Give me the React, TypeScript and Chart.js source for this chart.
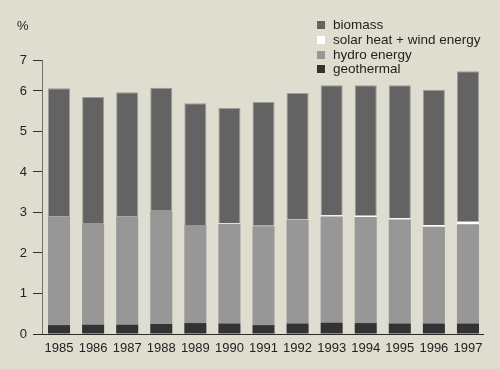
import React, { useEffect, useRef } from "react";
import { Chart, registerables } from "chart.js";

Chart.register(...registerables);

const years = ["1985", "1986", "1987", "1988", "1989", "1990", "1991", "1992", "1993", "1994", "1995", "1996", "1997"];
const geothermal = [0.22, 0.23, 0.23, 0.25, 0.27, 0.26, 0.22, 0.26, 0.28, 0.27, 0.26, 0.26, 0.26];
const hydro = [2.69, 2.49, 2.68, 2.79, 2.42, 2.46, 2.44, 2.57, 2.62, 2.62, 2.57, 2.39, 2.45];
const solarWind = [0, 0, 0, 0, 0, 0.02, 0.01, 0.01, 0.03, 0.03, 0.03, 0.04, 0.06];
const biomass = [3.16, 3.13, 3.06, 3.04, 3.01, 2.84, 3.06, 3.11, 3.21, 3.22, 3.28, 3.34, 3.72];

const yTickValues = [0, 1, 2, 3, 4, 5, 6, 6.765];
const yTickLabels = ["0", "1", "2", "3", "4", "5", "6", "7"];
const yMax = 6.765;

const BG = "#dfddcf";
const FONT = "'Liberation Sans', Arial, sans-serif";

const legendItems = [
  { label: "biomass", color: "#636363" },
  { label: "solar heat + wind energy", color: "#ffffff" },
  { label: "hydro energy", color: "#979797" },
  { label: "geothermal", color: "#333333" },
];

const xAxisLine = {
  id: "xAxisLine",
  afterDatasetsDraw(chart: any) {
    const { ctx, chartArea } = chart;
    const y = Math.round(chart.scales.y.getPixelForValue(0)) + 0.5;
    ctx.save();
    ctx.strokeStyle = "#2a2a2a";
    ctx.lineWidth = 1;
    ctx.beginPath();
    ctx.moveTo(chartArea.left - 9, y);
    ctx.lineTo(chartArea.right - 1, y);
    ctx.stroke();
    ctx.restore();
  },
};

export default function App() {
  const canvasRef = useRef<HTMLCanvasElement | null>(null);

  useEffect(() => {
    if (!canvasRef.current) return;
    const chart = new Chart(canvasRef.current, {
      type: "bar",
      data: {
        labels: years,
        datasets: [
          { label: "geothermal", data: geothermal, backgroundColor: "#333333", borderWidth: 0 },
          { label: "hydro energy", data: hydro, backgroundColor: "#979797", borderWidth: 0 },
          { label: "solar heat + wind energy", data: solarWind, backgroundColor: "#ffffff", borderWidth: 0 },
          {
            label: "biomass",
            data: biomass,
            backgroundColor: "#636363",
            borderColor: "#9d9d97",
            borderWidth: 1,
          },
        ],
      },
      options: {
        responsive: false,
        maintainAspectRatio: false,
        animation: false,
        layout: { padding: { top: 60, right: 15, left: 0, bottom: 0 } },
        datasets: { bar: { barPercentage: 0.647, categoryPercentage: 1 } },
        plugins: { legend: { display: false }, tooltip: { enabled: false } },
        scales: {
          x: {
            stacked: true,
            grid: { display: false, drawTicks: false },
            border: { display: false },
            ticks: { color: "#222", font: { family: FONT, size: 13 }, padding: 7, maxRotation: 0 },
            afterFit: (s: any) => {
              s.height = 35;
            },
          },
          y: {
            stacked: true,
            min: 0,
            max: yMax,
            grid: { drawOnChartArea: false, drawTicks: true, tickLength: 9, color: "#333333" },
            border: { display: true, color: "#707070", width: 1 },
            afterBuildTicks: (s: any) => {
              s.ticks = yTickValues.map((v) => ({ value: v }));
            },
            ticks: {
              color: "#222",
              font: { family: FONT, size: 13 },
              padding: 6,
              callback: (_v: any, i: number) => yTickLabels[i],
            },
            afterFit: (s: any) => {
              s.width = 42;
            },
          },
        },
      },
      plugins: [xAxisLine],
    });
    return () => chart.destroy();
  }, []);

  return (
    <div
      style={{
        position: "fixed",
        left: 0,
        top: 0,
        width: 500,
        height: 369,
        background: BG,
        fontFamily: FONT,
        overflow: "hidden",
      }}
    >
      <canvas ref={canvasRef} width={500} height={369} style={{ position: "absolute", left: 0, top: 0 }} />
      <div style={{ position: "absolute", left: 17, top: 18, fontSize: 13, color: "#222" }}>%</div>
      <div style={{ position: "absolute", left: 317, top: 18 }}>
        {legendItems.map((it) => (
          <div key={it.label} style={{ display: "flex", alignItems: "center", height: 14.7, fontSize: 13.5, color: "#222" }}>
            <span style={{ display: "inline-block", width: 8, height: 8, background: it.color, marginRight: 8 }} />
            <span style={{ lineHeight: "14px" }}>{it.label}</span>
          </div>
        ))}
      </div>
    </div>
  );
}
